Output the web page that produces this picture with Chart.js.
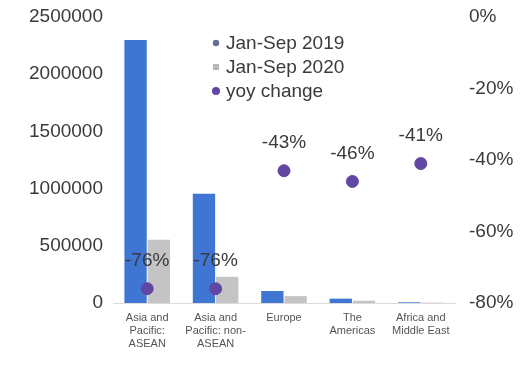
<!DOCTYPE html>
<html>
<head>
<meta charset="utf-8">
<script src="https://cdn.jsdelivr.net/npm/chart.js@4.4.1/dist/chart.umd.min.js"></script>
<style>
  html, body { margin: 0; padding: 0; background: #ffffff; }
  #wrap { width: 524px; height: 365px; }
</style>
</head>
<body>
<div id="wrap"><canvas id="c" width="524" height="365"></canvas></div>
<script>
// Regions (multi-line axis labels)
const regions = [
  ["Asia and", "Pacific:", "ASEAN"],
  ["Asia and", "Pacific: non-", "ASEAN"],
  ["Europe"],
  ["The", "Americas"],
  ["Africa and", "Middle East"]
];
// Arrivals, Jan-Sep
const arrivals2019 = [2300000, 955000, 105000, 38000, 6000];
const arrivals2020 = [552000, 229000, 60000, 20000, 3500];
// Year-on-year change, %
const yoyChange = [-76, -76, -43, -46, -41];

const seriesNames = ["Jan-Sep 2019", "Jan-Sep 2020", "yoy change"];
const leftTicks = [0, 500000, 1000000, 1500000, 2000000, 2500000];
const rightTicks = [-80, -60, -40, -20, 0];

const FONT = "'Liberation Sans', Arial, sans-serif";
const TEXT = "#3a3a3a";
const BLUE = "#3f75d3";
const GREY = "#c4c4c4";
const PURPLE = "#6246a4";

// Text labels above the yoy points
const pointLabels = {
  id: "pointLabels",
  afterDatasetsDraw(chart) {
    const meta = chart.getDatasetMeta(2);
    const ctx = chart.ctx;
    ctx.save();
    ctx.font = "19px " + FONT;
    ctx.fillStyle = TEXT;
    ctx.textAlign = "center";
    ctx.textBaseline = "middle";
    meta.data.forEach((pt, i) => {
      ctx.fillText(yoyChange[i] + "%", pt.x, pt.y - 28);
    });
    ctx.restore();
  }
};

// Legend drawn inside the plot, upper middle
const innerLegend = {
  id: "innerLegend",
  afterDraw(chart) {
    const ctx = chart.ctx;
    const x0 = 216, y0 = 43, step = 24;
    ctx.save();
    ctx.font = "19px " + FONT;
    ctx.textBaseline = "middle";
    ctx.textAlign = "left";
    chart.data.datasets.forEach((ds, i) => {
      const y = y0 + i * step;
      if (i === 0) {
        ctx.fillStyle = "#5f6f95";
        ctx.beginPath(); ctx.arc(x0, y, 3.2, 0, Math.PI * 2); ctx.fill();
      } else if (i === 1) {
        ctx.fillStyle = "#b9b9b9";
        ctx.fillRect(x0 - 3, y - 3, 6, 6);
      } else {
        ctx.fillStyle = PURPLE;
        ctx.beginPath(); ctx.arc(x0, y, 4, 0, Math.PI * 2); ctx.fill();
      }
      ctx.fillStyle = TEXT;
      ctx.fillText(ds.label, x0 + 10, y + 1);
    });
    ctx.restore();
  }
};

// Value axes: fixed width, no extra vertical room for end labels
function fitValueAxis(width) {
  return function (scale) {
    scale.width = width;
    scale.paddingTop = 0;
    scale.paddingBottom = 0;
  };
}

new Chart(document.getElementById("c"), {
  data: {
    labels: regions,
    datasets: [
      {
        type: "bar",
        label: seriesNames[0],
        data: arrivals2019,
        backgroundColor: BLUE,
        yAxisID: "y",
        order: 2,
        categoryPercentage: 0.68,
        barPercentage: 0.96
      },
      {
        type: "bar",
        label: seriesNames[1],
        data: arrivals2020,
        backgroundColor: GREY,
        yAxisID: "y",
        order: 2,
        categoryPercentage: 0.68,
        barPercentage: 0.96
      },
      {
        type: "line",
        label: seriesNames[2],
        data: yoyChange,
        yAxisID: "y2",
        showLine: false,
        pointRadius: 6,
        pointBackgroundColor: PURPLE,
        pointBorderColor: PURPLE,
        order: 0
      }
    ]
  },
  options: {
    responsive: false,
    animation: false,
    events: [],
    layout: { padding: { top: 17, left: 0, right: 0, bottom: 0 } },
    plugins: {
      legend: { display: false },
      tooltip: { enabled: false }
    },
    scales: {
      x: {
        grid: { display: false, drawTicks: false },
        border: { display: true, color: "#dcdcdc" },
        ticks: {
          color: "#555555",
          font: { family: FONT, size: 11 },
          maxRotation: 0,
          autoSkip: false,
          padding: 8
        },
        afterFit(scale) { scale.height = 62; }
      },
      y: {
        position: "left",
        min: 0,
        max: 2500000,
        afterBuildTicks(scale) { scale.ticks = leftTicks.map(v => ({ value: v })); },
        grid: { display: false, drawTicks: false },
        border: { display: false },
        ticks: {
          color: TEXT,
          font: { family: FONT, size: 19 },
          padding: 10,
          callback: v => String(v)
        },
        afterFit: fitValueAxis(113)
      },
      y2: {
        position: "right",
        min: -80,
        max: 0,
        afterBuildTicks(scale) { scale.ticks = rightTicks.map(v => ({ value: v })); },
        grid: { display: false, drawTicks: false },
        border: { display: false },
        ticks: {
          color: TEXT,
          font: { family: FONT, size: 19 },
          padding: 14,
          callback: v => v + "%"
        },
        afterFit: fitValueAxis(69)
      }
    }
  },
  plugins: [pointLabels, innerLegend]
});
</script>
</body>
</html>
